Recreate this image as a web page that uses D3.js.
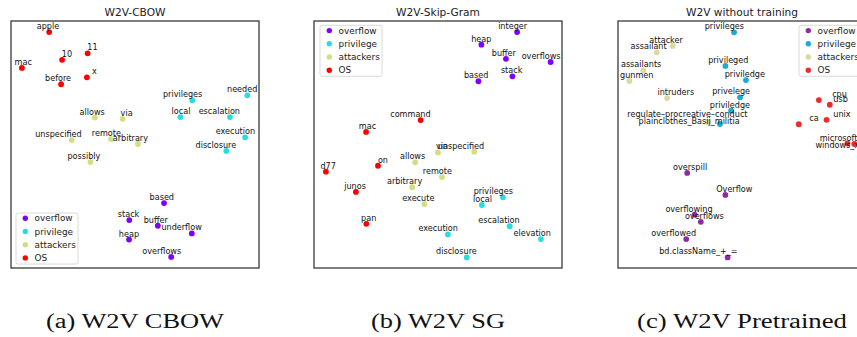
<!DOCTYPE html>
<html>
<head>
<meta charset="utf-8">
<script src="https://cdn.jsdelivr.net/npm/d3@7"></script>
<style>
  body { margin: 0; background: #fff; }
  text { font-family: "DejaVu Sans", sans-serif; }
</style>
</head>
<body>
<div id="chart"></div>
<script>
// categories and colours (rainbow cmap for the trained models, plain colours for pretrained)
const categories = ['overflow', 'privilege', 'attackers', 'OS'];
const rainbowColors = ['#8000ff', '#2adddd', '#d4dd80', '#ff0000'];
const pretrainedColors = ['#8e2ca0', '#1ca9dc', '#dcd8a2', '#ee2a2a'];

const titles = ['W2V-CBOW', 'W2V-Skip-Gram', 'W2V without training'];
const captions = ['(a) W2V CBOW', '(b) W2V SG', '(c) W2V Pretrained'];

// 2-d projections, [word, x, y] (axes span 0..100)
const cbowOverflow = [['based', 61.7, 26.3], ['stack', 47.7, 19.4], ['buffer', 59.2, 17.1],
  ['underflow', 72.9, 14.0], ['heap', 47.6, 11.5], ['overflows', 64.6, 4.5]];
const cbowPrivilege = [['privileges', 73.1, 67.9], ['needed', 95.3, 69.9], ['local', 68.3, 61.1],
  ['escalation', 88.3, 61.1], ['execution', 94.4, 52.9], ['disclosure', 86.8, 47.4]];
const cbowAttackers = [['allows', 33.8, 60.9], ['via', 45.0, 60.4], ['unspecified', 24.5, 51.8],
  ['remote', 40.3, 52.2], ['arbitrary', 51.2, 50.2], ['possibly', 32.0, 42.9]];
const cbowOS = [['apple', 15.4, 95.5], ['11', 30.9, 86.9], ['10', 20.6, 84.3],
  ['mac', 4.4, 81.0], ['x', 30.6, 77.2], ['before', 20.2, 74.4]];

const sgOverflow = [['integer', 81.9, 95.5], ['heap', 67.5, 90.4], ['buffer', 77.4, 84.7],
  ['overflows', 95.4, 83.4], ['stack', 80.0, 77.6], ['based', 66.3, 75.6]];
const sgPrivilege = [['privileges', 76.2, 28.6], ['local', 67.7, 25.5], ['escalation', 78.9, 16.9],
  ['elevation', 91.5, 11.7], ['execution', 54.0, 13.6], ['disclosure', 61.6, 4.3]];
const sgAttackers = [['via', 50.0, 46.8], ['unspecified', 64.6, 47.1], ['allows', 40.8, 42.8],
  ['remote', 51.6, 36.8], ['arbitrary', 39.6, 32.7], ['execute', 44.5, 25.9]];
const sgOS = [['command', 43.0, 59.9], ['mac', 21.0, 55.1], ['on', 25.8, 41.4],
  ['d77', 4.8, 39.0], ['junos', 16.9, 30.8], ['pan', 21.1, 17.9]];

const ptOverflow = [['overspill', 27.9, 38.5], ['Overflow', 43.3, 29.6], ['overflowing', 30.9, 21.6],
  ['overflows', 33.4, 18.7], ['overflowed', 27.5, 11.7], ['bd.className_+_=', 44.2, 4.3]];
const ptPrivilege = [['privileges', 46.8, 95.4], ['privileged', 43.3, 81.8], ['priviledge', 51.6, 76.1],
  ['privelege', 49.2, 69.1], ['priviledge', 45.6, 63.7], ['', 41.1, 58.3]];
const ptAttackers = [['attacker', 22.1, 89.9], ['assailant', 15.6, 87.3], ['assailants', 10.2, 80.0],
  ['gunmen', 4.6, 75.7], ['intruders', 19.8, 68.8], ['regulate\u2013procreative\u2013conduct', 36.5, 59.3],
  ['plainclothes_Basij_militia', 36.2, 59.0]];
const ptOS = [['cpu', 81.0, 68.0], ['usb', 85.4, 66.1], ['unix', 84.1, 60.0],
  ['ca', 72.9, 58.2], ['microsoft', 92.5, 50.4], ['windows_xp', 95.3, 50.2]];

// label nudges for the pretrained panel, [dx, dy] in px
const ptNudge = {
  'privileged': [13, 0], 'priviledge': [9, 0], 'assailants': [8, 0], 'gunmen': [14, 0],
  'intruders': [17, 0], 'plainclothes_Basij_militia': [22, 5], 'regulate\u2013procreative\u2013conduct': [29, -2],
  'cpu': [18, 0], 'usb': [8, 0], 'unix': [14, 0], 'ca': [10, 0], 'windows_xp': [0, 7],
  'overspill': [10, 0], 'Overflow': [17, 0], 'overflowing': [8, 0], 'overflows': [13, 0]
};

const panels = [
  { groups: [cbowOverflow, cbowPrivilege, cbowAttackers, cbowOS], colors: rainbowColors, legend: 'lower left', nudge: {} },
  { groups: [sgOverflow, sgPrivilege, sgAttackers, sgOS], colors: rainbowColors, legend: 'upper left', nudge: {} },
  { groups: [ptOverflow, ptPrivilege, ptAttackers, ptOS], colors: pretrainedColors, legend: 'upper right', nudge: ptNudge }
];

const width = 857;
const height = 337;
const lefts = [11, 314, 618];
const frame = { top: 21, width: 248, height: 247 };

const svg = d3.select('#chart')
  .append('svg')
    .attr('width', width)
    .attr('height', height);

panels.forEach((p, i) => {
  const left = lefts[i];
  const xScale = d3.scaleLinear().domain([0, 100]).range([left, left + frame.width]);
  const yScale = d3.scaleLinear().domain([0, 100]).range([frame.top + frame.height, frame.top]);
  const g = svg.append('g');

  // scatter, one category at a time
  p.groups.forEach((grp, k) => {
    g.append('g')
      .selectAll('circle')
      .data(grp)
      .enter()
      .append('circle')
        .attr('cx', d => xScale(d[1]))
        .attr('cy', d => yScale(d[2]))
        .attr('r', 2.9)
        .style('fill', p.colors[k]);
  });

  // word labels, right aligned just above-right of the point
  const words = [].concat(...p.groups).filter(d => d[0] !== '');
  g.append('g')
    .selectAll('text')
    .data(words)
    .enter()
    .append('text')
      .attr('x', d => xScale(d[1]) + 10 + (p.nudge[d[0]] || [0, 0])[0])
      .attr('y', d => yScale(d[2]) - 3 + (p.nudge[d[0]] || [0, 0])[1])
      .attr('text-anchor', 'end')
      .style('font-size', '8.1px')
      .style('fill', '#111')
      .text(d => d[0]);

  // axes frame
  g.append('rect')
    .attr('x', left)
    .attr('y', frame.top)
    .attr('width', frame.width)
    .attr('height', frame.height)
    .style('fill', 'none')
    .style('stroke', '#3a3a3a')
    .style('stroke-width', 1.3);

  g.append('text')
    .attr('x', left + frame.width / 2)
    .attr('y', 15.5)
    .attr('text-anchor', 'middle')
    .style('font-size', '10.6px')
    .style('fill', '#222')
    .text(titles[i]);

  // legend
  const boxW = 62, boxH = 51, rowH = 13.2;
  let bx, by;
  if (p.legend === 'lower left') {
    bx = left + 5; by = frame.top + frame.height - 4 - boxH;
  } else if (p.legend === 'upper left') {
    bx = left + 6; by = frame.top + 4.3;
  } else {
    bx = left + frame.width - 5 - boxW; by = frame.top + 4.3;
  }
  const lg = g.append('g').attr('transform', `translate(${bx}, ${by})`);
  lg.append('rect')
    .attr('width', boxW)
    .attr('height', boxH)
    .attr('rx', 2)
    .style('fill', '#fff')
    .style('fill-opacity', 0.85)
    .style('stroke', '#d0d0d0')
    .style('stroke-width', 0.8);
  const rows = lg.selectAll('.row')
    .data(categories)
    .enter()
    .append('g')
      .attr('transform', (d, k) => `translate(0, ${5.3 + k * rowH})`);
  rows.append('circle')
    .attr('cx', 9.3)
    .attr('r', 2.7)
    .style('fill', (d, k) => p.colors[k]);
  rows.append('text')
    .attr('x', 18.5)
    .attr('dy', '0.35em')
    .style('font-size', '8.9px')
    .style('fill', '#222')
    .text(d => d);

  // sub-figure caption
  const capWidths = [178, 134, 210];
  svg.append('text')
    .attr('x', left + frame.width / 2 - capWidths[i] / 2)
    .attr('y', 327.5)
    .attr('textLength', capWidths[i])
    .attr('lengthAdjust', 'spacingAndGlyphs')
    .style('font-family', '"Liberation Serif", serif')
    .style('font-size', '20px')
    .style('fill', '#111')
    .text(captions[i]);
});
</script>
</body>
</html>
